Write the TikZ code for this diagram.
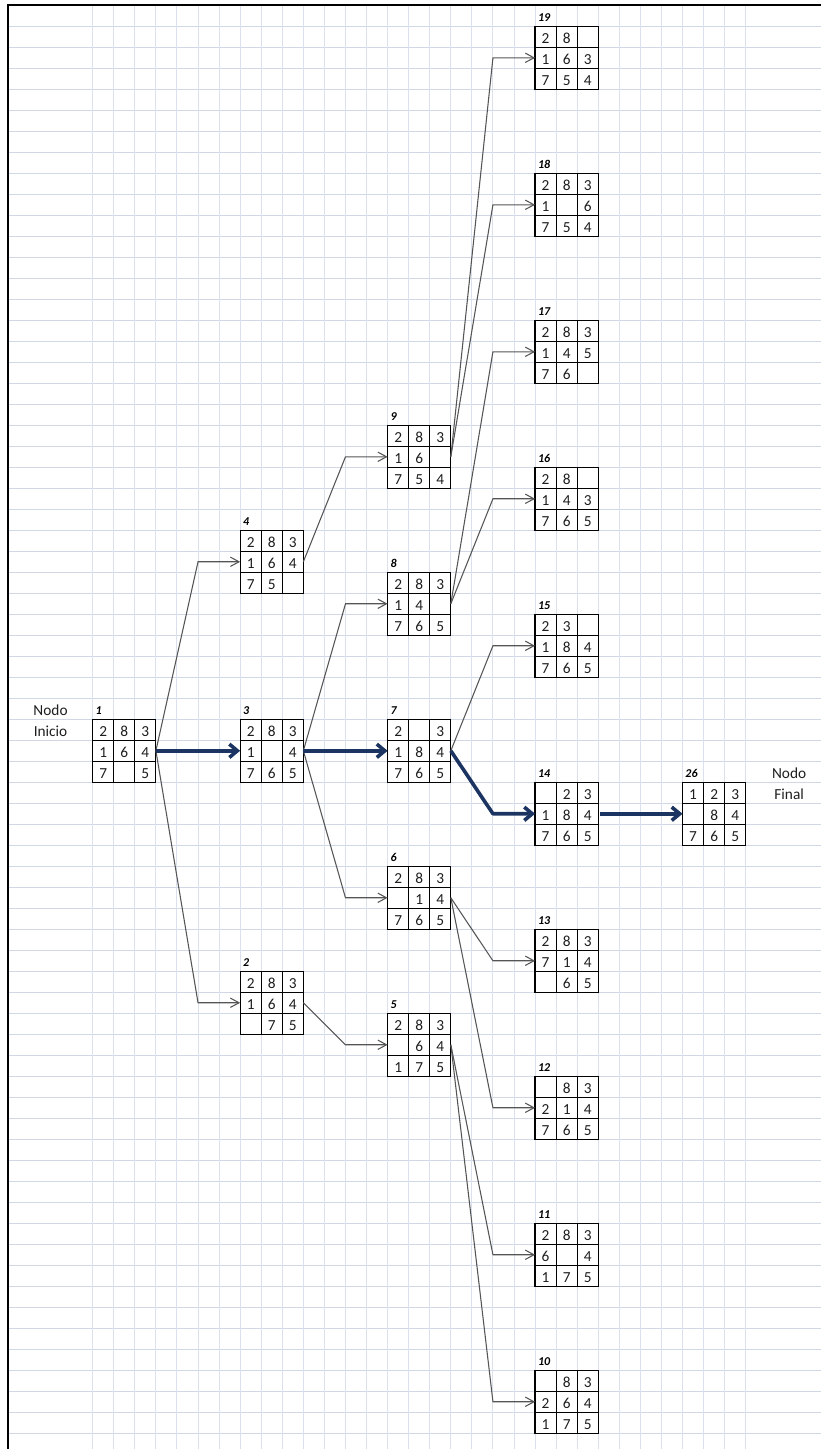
\documentclass[tikz,border=0pt]{standalone}
\usepackage{fontspec}
\setmainfont{Carlito}
\usepackage{tikz}
\usetikzlibrary{arrows.meta, positioning, calc}

\definecolor{gridblue}{RGB}{208,215,229}
\definecolor{gridvert}{RGB}{218,224,236}
\definecolor{pathnavy}{RGB}{28,52,98}
\definecolor{linegray}{RGB}{85,85,85}
\definecolor{inkgray}{RGB}{30,30,30}

\tikzset{
  puzbox/.style={draw=black, line width=0.9pt, minimum width=47.4pt, minimum height=47.25pt,
    inner sep=0pt, outer sep=0pt, anchor=north west},
  cellline/.style={black, line width=0.8pt},
  digit/.style={font=\fontsize{11.5}{13}\selectfont, text=inkgray, anchor=base, inner sep=0pt},
  boxlabel/.style={font=\fontsize{9}{10}\selectfont\bfseries\itshape, text=black, anchor=base west, inner sep=0pt},
  sidetext/.style={font=\fontsize{11.5}{13}\selectfont, text=inkgray, anchor=base, inner sep=0pt},
  thinarrow/.style={draw=linegray, line width=0.8pt, -{Straight Barb[length=6.5pt, width=7pt]}},
  patharrow/.style={draw=pathnavy, line width=2.7pt, line join=round, -{Straight Barb[length=6pt, width=10pt]}}
}

% one tile of a puzzle state, 0 = blank
\newcommand\puzcell[3]{%
  \ifnum#3>0 \node[digit] at ([yshift=2.6pt]#1+0.5,#2+1) {#3};\fi}

\begin{document}
\begin{tikzpicture}[x=15.8pt, y=-15.75pt]
  \useasboundingbox (-4.40,-0.252) rectangle (34.57,68.75);
  % sheet grid
  \foreach \gy in {1,...,68} {
    \draw[gridblue, line width=0.75pt] (-4.02,\gy) -- (34.57,\gy);
  }
  \foreach \gx in {0,...,31} {
    \draw[gridvert, line width=0.75pt] (\gx,0) -- (\gx,68.75);
  }
  \draw[black, line width=1.6pt] (-4.02,68.75) -- (-4.02,0) -- (34.57,0);

  % puzzle states: id / column / row / tiles row by row
  \foreach \id/\cx/\ry/\ua/\ub/\uc/\ud/\ue/\uf/\ug/\uh/\ui in {
    1/0/34/2/8/3/1/6/4/7/0/5,
    2/7/46/2/8/3/1/6/4/0/7/5,
    3/7/34/2/8/3/1/0/4/7/6/5,
    4/7/25/2/8/3/1/6/4/7/5/0,
    5/14/48/2/8/3/0/6/4/1/7/5,
    6/14/41/2/8/3/0/1/4/7/6/5,
    7/14/34/2/0/3/1/8/4/7/6/5,
    8/14/27/2/8/3/1/4/0/7/6/5,
    9/14/20/2/8/3/1/6/0/7/5/4,
    10/21/65/0/8/3/2/6/4/1/7/5,
    11/21/58/2/8/3/6/0/4/1/7/5,
    12/21/51/0/8/3/2/1/4/7/6/5,
    13/21/44/2/8/3/7/1/4/0/6/5,
    14/21/37/0/2/3/1/8/4/7/6/5,
    15/21/29/2/3/0/1/8/4/7/6/5,
    16/21/22/2/8/0/1/4/3/7/6/5,
    17/21/15/2/8/3/1/4/5/7/6/0,
    18/21/8/2/8/3/1/0/6/7/5/4,
    19/21/1/2/8/0/1/6/3/7/5/4,
    26/28/37/1/2/3/0/8/4/7/6/5
  } {
    \node[puzbox] (n\id) at (\cx,\ry) {};
    \foreach \i in {1,2} {
      \draw[cellline] (\cx+\i,\ry) -- (\cx+\i,\ry+3);
      \draw[cellline] (\cx,\ry+\i) -- (\cx+3,\ry+\i);
    }
    \node[boxlabel] at ([xshift=2pt, yshift=3.6pt]n\id.north west) {\id};
    \puzcell{\cx}{\ry}{\ua}
    \puzcell{\cx+1}{\ry}{\ub}
    \puzcell{\cx+2}{\ry}{\uc}
    \puzcell{\cx}{\ry+1}{\ud}
    \puzcell{\cx+1}{\ry+1}{\ue}
    \puzcell{\cx+2}{\ry+1}{\uf}
    \puzcell{\cx}{\ry+2}{\ug}
    \puzcell{\cx+1}{\ry+2}{\uh}
    \puzcell{\cx+2}{\ry+2}{\ui}
  }

  % start and goal captions
  \node[sidetext] (inicio1) at (-2.0,33.8) {Nodo};
  \node[sidetext] (inicio2) at (-2.0,34.8) {Inicio};
  \node[sidetext] (final1) at (33.06,36.8) {Nodo};
  \node[sidetext] (final2) at (33.06,37.8) {Final};

  % expansions
  \foreach \s/\t in {1/4, 1/2, 4/9, 3/8, 3/6, 2/5, 9/19, 9/18, 8/17, 8/16, 7/15, 6/13, 6/12, 5/11, 5/10} {
    \draw[thinarrow] (n\s.east) -- ($(n\t.west)+(-2,0)$) -- (n\t.west);
  }

  % solution path
  \draw[patharrow] (n1.east) -- (n3.west);
  \draw[patharrow] (n3.east) -- (n7.west);
  \draw[patharrow] (n7.east) -- ($(n14.west)+(-2,0)$) -- (n14.west);
  \draw[patharrow] ([xshift=1.5pt]n14.east) -- (n26.west);
\end{tikzpicture}
\end{document}
